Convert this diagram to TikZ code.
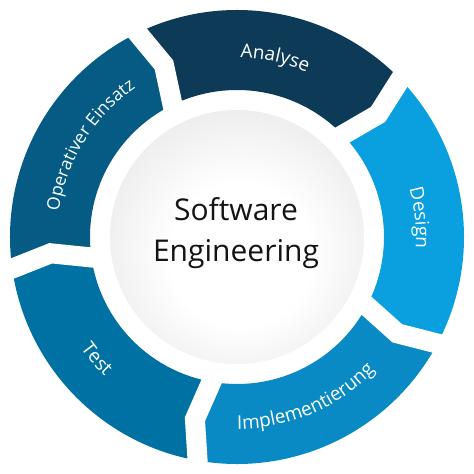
\documentclass[tikz,border=0pt]{standalone}
\usepackage{fontspec}
\setmainfont{Open Sans}
\usetikzlibrary{decorations.text,calc}
\definecolor{cAna}{HTML}{0D3A57}
\definecolor{cDes}{HTML}{0AA0E0}
\definecolor{cImp}{HTML}{0A8AC4}
\definecolor{cTes}{HTML}{0071A3}
\definecolor{cOpe}{HTML}{055B83}
\pgfdeclareradialshading{ballshade}{\pgfpoint{1bp}{-5bp}}{color(0bp)=(white); color(14bp)=(white); color(34bp)=(black!10); color(50bp)=(black!28)}
\newcommand\Ro{227}
\newcommand\Ri{147}
\newcommand\Rm{187}
\newcommand\dd{3}
\newcommand\lblfont{\fontsize{19}{22}\selectfont}
\newcommand\lblsmall{\fontsize{17.5}{21}\selectfont}
\newcommand\ringseg[3]{%
  \fill[#3] (#1:\Ro) arc[start angle=#1, end angle=#2, radius=\Ro]
    -- (#2-\dd:\Rm) -- (#2:\Ri)
    arc[start angle=#2, end angle=#1, radius=\Ri]
    -- (#1-\dd:\Rm) -- cycle;}
\tikzset{
  gapline/.style={white, line width=20pt, line join=miter},
  lbl/.style={decorate, decoration={text along path, text align=center, text color=white}},
  title/.style={anchor=base, font=\fontsize{30}{34}\selectfont, text=black!92, inner sep=0pt}
}
\begin{document}
\begin{tikzpicture}[x=1pt,y=1pt]
\useasboundingbox (0,0) rectangle (474,474);
\fill[white] (0,0) rectangle (474,474);
\begin{scope}[shift={(237,237)}]
  \ringseg{116}{44}{cAna}
  \ringseg{44}{-28}{cDes}
  \ringseg{-28}{-100}{cImp}
  \ringseg{-100}{-172}{cTes}
  \ringseg{188}{116}{cOpe}
  \foreach \g in {116,44,-28,-100,-172}
    \draw[gapline] ($(\g:\Ro)!-0.4!(\g-\dd:\Rm)$) -- (\g-\dd:\Rm) -- ($(\g:\Ri)!-0.4!(\g-\dd:\Rm)$);
  \shade[shading=ballshade] (0,0) circle[radius=127];
  \node[title] (sw) at (-1,16) {Software};
  \node[title] (en) at (-1,-25) {Engineering};
  % labels
  \path[lbl, decoration={text={|\lblfont|Analyse}}] (78+40:179) arc[start angle=78+40, end angle=78-40, radius=179];
  \path[lbl, decoration={text={|\lblfont|Design}}] (6+40:179) arc[start angle=6+40, end angle=6-40, radius=179];
  \path[lbl, decoration={text={|\lblsmall|Operativer Einsatz}}] (148+40:180) arc[start angle=148+40, end angle=148-40, radius=180];
  \path[lbl, decoration={text={|\lblfont|Implementierung}}] (-67-40:192) arc[start angle=-67-40, end angle=-67+40, radius=192];
  \path[lbl, decoration={text={|\lblfont|Test}}] (-139-40:192) arc[start angle=-139-40, end angle=-139+40, radius=192];
\end{scope}
\end{tikzpicture}
\end{document}
